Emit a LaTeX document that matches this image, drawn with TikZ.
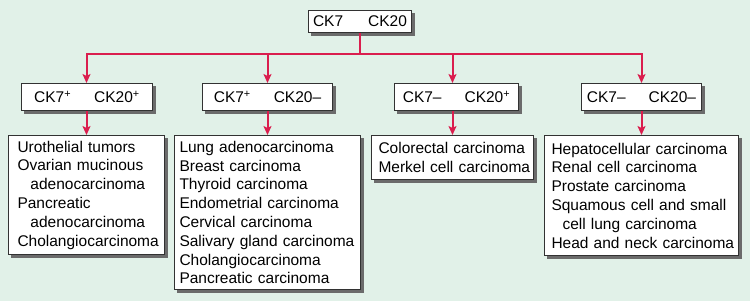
\documentclass[tikz,border=0pt]{standalone}
\usepackage{fontspec}
\setmainfont{Liberation Sans}
\usetikzlibrary{arrows.meta,backgrounds}
\definecolor{bgc}{RGB}{225,241,232}
\definecolor{arr}{RGB}{218,30,78}
\definecolor{edgec}{RGB}{50,50,50}
\newcommand{\Lne}[1]{\mbox{#1}}
\begin{document}
\begin{tikzpicture}[x=1pt,y=-1pt,
  box/.style={draw=edgec, line width=1pt, fill=white,
    font=\fontsize{15.5}{18.8}\selectfont, inner sep=0pt, anchor=north west},
  shade box/.style={fill=black!58},
  link/.style={draw=arr, line width=2pt},
  tip/.style={link, -{Stealth[length=9pt,width=8pt,inset=2pt]}}
]
\useasboundingbox (0,0) rectangle (750,301);

% top
\node[box, minimum width=103pt, minimum height=22pt] (top) at (308,10) {CK7\hspace{25pt}CK20};

% level 2
\node[box, minimum width=131pt, minimum height=27pt] (la) at (21,83) {CK7\textsuperscript{+}\hspace{23pt}CK20\textsuperscript{+}};
\node[box, minimum width=130pt, minimum height=27pt] (lb) at (202,83) {CK7\textsuperscript{+}\hspace{23pt}CK20–};
\node[box, minimum width=124pt, minimum height=27pt] (lc) at (394,83) {CK7–\hspace{23pt}CK20\textsuperscript{+}};
\node[box, minimum width=120pt, minimum height=27pt] (ld) at (581,83) {CK7–\hspace{23pt}CK20–};

% level 3
\node[box, minimum width=156pt, minimum height=119pt, text width=138pt, align=left] (ra) at (8,135)
  {\Lne{Urothelial tumors}\\\Lne{Ovarian mucinous}\\\Lne{\hspace*{13pt}adenocarcinoma}\\\Lne{Pancreatic}\\\Lne{\hspace*{13pt}adenocarcinoma}\\\Lne{Cholangiocarcinoma}};
\node[box, minimum width=186pt, minimum height=154pt, text width=176pt, align=left] (rb) at (174,135)
  {\Lne{Lung adenocarcinoma}\\\Lne{Breast carcinoma}\\\Lne{Thyroid carcinoma}\\\Lne{Endometrial carcinoma}\\\Lne{Cervical carcinoma}\\\Lne{Salivary gland carcinoma}\\\Lne{Cholangiocarcinoma}\\\Lne{Pancreatic carcinoma}};
\node[box, minimum width=162pt, minimum height=44pt, text width=148pt, align=left] (rc) at (371,135)
  {\Lne{Colorectal carcinoma}\\\Lne{Merkel cell carcinoma}};
\node[box, minimum width=194pt, minimum height=120pt, text width=180pt, align=left] (rd) at (544,135)
  {\Lne{Hepatocellular carcinoma}\\\Lne{Renal cell carcinoma}\\\Lne{Prostate carcinoma}\\\Lne{Squamous cell and small}\\\Lne{\hspace*{11pt}cell lung carcinoma}\\\Lne{Head and neck carcinoma}};

% background and shadows
\begin{pgfonlayer}{background}
  \fill[bgc] (0,0) rectangle (750,301);
  \foreach \n in {top, la, lb, lc, ld, ra, rb, rc, rd}{
    \fill[shade box] ([shift={(2.5,2.5)}]\n.north west) rectangle ([shift={(2.5,2.5)}]\n.south east);
  }
\end{pgfonlayer}

% connectors
\coordinate (bus) at (0,54);
\foreach \l/\r in {la/ra, lb/rb, lc/rc, ld/rd}{
  \draw[tip] (top.south) |- (bus -| \r.north) -- (\l.north -| \r.north);
  \draw[tip] (\l.south -| \r.north) -- (\r.north);
}
\end{tikzpicture}
\end{document}
